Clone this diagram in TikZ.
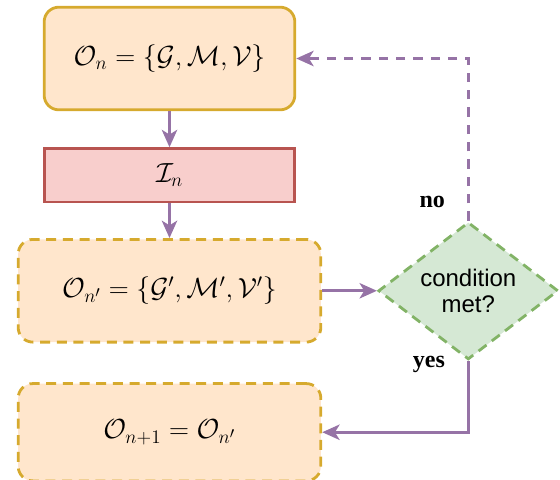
\documentclass[tikz,border=0pt]{standalone}
\usepackage{amsmath,amssymb}
\usepackage{fontspec}
\newfontfamily\labelfont{Liberation Serif}
\newfontfamily\condfont{Liberation Sans}
\usepackage{xcolor}
\usetikzlibrary{shapes.geometric,arrows.meta,positioning}

\definecolor{peach}{HTML}{FFE6CC}
\definecolor{goldline}{HTML}{D6AA2E}
\definecolor{pinkfill}{HTML}{F8CECC}
\definecolor{redline}{HTML}{B85450}
\definecolor{greenfill}{HTML}{D5E8D4}
\definecolor{greenline}{HTML}{82B366}
\definecolor{purpleline}{HTML}{9673A6}

\begin{document}
\begin{tikzpicture}[
    x=0.75pt, y=0.75pt,
    state/.style={rectangle, draw=goldline, fill=peach, line width=2.1pt, rounded corners=11pt, minimum width=188pt, minimum height=77pt, font=\huge},
    newstate/.style={state, dashed, dash pattern=on 7.5pt off 5pt, minimum width=227pt},
    update/.style={rectangle, draw=redline, fill=pinkfill, line width=2.1pt, minimum width=187pt, minimum height=40pt, font=\huge},
    check/.style={diamond, draw=greenline, fill=greenfill, line width=2.1pt, dash pattern=on 7.5pt off 5pt, minimum width=135pt, minimum height=103pt, inner sep=0pt, aspect=1.31, align=center, font=\condfont\fontsize{18}{20}\selectfont},
    arrow/.style={-{Stealth[length=13pt, width=11.5pt, inset=3.5pt]}, line width=2.2pt, draw=purpleline},
    answer/.style={font=\labelfont\bfseries\fontsize{18}{20}\selectfont}
]
    \useasboundingbox (0,0) rectangle (560,-479);

    \node[state] (on) at (169.5,-58.5) {$\mathcal{O}_n = \{\mathcal{G},\mathcal{M},\mathcal{V}\}$};
    \node[update, below=27pt of on] (in) {$\mathcal{I}_n$};
    \node[newstate, below=26pt of in] (onp) {$\mathcal{O}_{n'} = \{\mathcal{G}',\mathcal{M}',\mathcal{V}'\}$};
    \node[newstate, below=29pt of onp, minimum height=73pt] (onext) {$\mathcal{O}_{n+1} = \mathcal{O}_{n'}$};

    \node[check, right=41pt of onp] (cond) {condition\\met?};

    \draw[arrow] (on) -- (in);
    \draw[arrow] (in) -- (onp);
    \draw[arrow] (onp) -- (cond);
    \draw[arrow, dashed, dash pattern=on 7pt off 6pt] (cond.north) |- (on.east);
    \draw[arrow] (cond.south) |- (onext.east);

    \node[answer, above left=6pt and 14pt of cond.north] (no) {no};
    \node[answer, below left=-7pt and 14pt of cond.south] (yes) {yes};
\end{tikzpicture}
\end{document}
